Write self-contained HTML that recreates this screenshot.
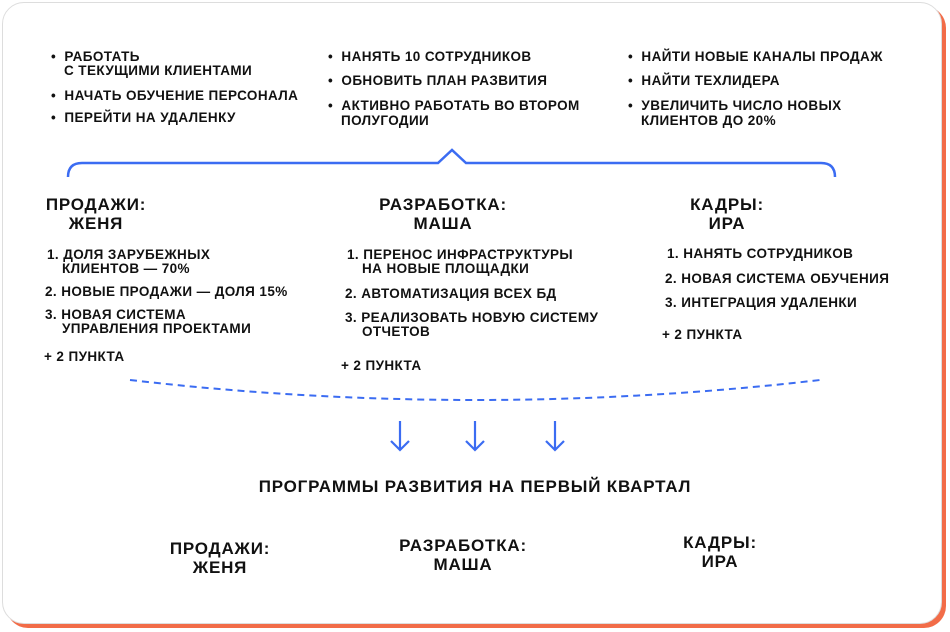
<!DOCTYPE html>
<html><head><meta charset="utf-8"><style>
body{margin:0;width:950px;height:632px;background:#fff;overflow:hidden;position:relative;font-family:"Liberation Sans",sans-serif;color:#111}
.card{position:absolute;left:2px;top:2px;width:938px;height:620px;border:1px solid #ddd;border-radius:22px;background:#fff;box-shadow:4px 4px 0 #f26c48}
.t{position:absolute;font-size:13.5px;font-weight:bold;letter-spacing:0.4px;white-space:nowrap;line-height:16px}
.h{position:absolute;font-size:17px;font-weight:bold;letter-spacing:0.8px;text-align:center;line-height:19px;white-space:nowrap;transform:translateX(-50%)}
</style></head><body>
<div class="card"></div>
<svg width="950" height="632" style="position:absolute;left:0;top:0">
<path d="M68 177 Q68 163 82 163 L438 163 L452 150 L466 163 L821 163 Q835 163 835 177" fill="none" stroke="#3b6cf2" stroke-width="2.5"/>
<path d="M130 380 Q475 420 820 380" fill="none" stroke="#3b6cf2" stroke-width="2" stroke-dasharray="7 5"/>
<g stroke="#3b6cf2" stroke-width="2.2" fill="none">
<path d="M400 421V450M391 441L400 450L409 441"/>
<path d="M475 421V450M466 441L475 450L484 441"/>
<path d="M555 421V450M546 441L555 450L564 441"/>
</g>
</svg>
<div class="t" style="left:51px;top:49px">•&nbsp; РАБОТАТЬ</div>
<div class="t" style="left:64px;top:63px">С ТЕКУЩИМИ КЛИЕНТАМИ</div>
<div class="t" style="left:51px;top:88px">•&nbsp; НАЧАТЬ ОБУЧЕНИЕ ПЕРСОНАЛА</div>
<div class="t" style="left:51px;top:110px">•&nbsp; ПЕРЕЙТИ НА УДАЛЕНКУ</div>
<div class="t" style="left:328px;top:49px">•&nbsp; НАНЯТЬ 10 СОТРУДНИКОВ</div>
<div class="t" style="left:328px;top:73px">•&nbsp; ОБНОВИТЬ ПЛАН РАЗВИТИЯ</div>
<div class="t" style="left:328px;top:98px">•&nbsp; АКТИВНО РАБОТАТЬ ВО ВТОРОМ</div>
<div class="t" style="left:341px;top:113px">ПОЛУГОДИИ</div>
<div class="t" style="left:628px;top:49px">•&nbsp; НАЙТИ НОВЫЕ КАНАЛЫ ПРОДАЖ</div>
<div class="t" style="left:628px;top:73px">•&nbsp; НАЙТИ ТЕХЛИДЕРА</div>
<div class="t" style="left:628px;top:98px">•&nbsp; УВЕЛИЧИТЬ ЧИСЛО НОВЫХ</div>
<div class="t" style="left:641px;top:113px">КЛИЕНТОВ ДО 20%</div>
<div class="h" style="left:96px;top:195px">ПРОДАЖИ:<br>ЖЕНЯ</div>
<div class="h" style="left:443px;top:195px">РАЗРАБОТКА:<br>МАША</div>
<div class="h" style="left:727px;top:195px">КАДРЫ:<br>ИРА</div>
<div class="t" style="left:47px;top:247px">1. ДОЛЯ ЗАРУБЕЖНЫХ</div>
<div class="t" style="left:62px;top:261px">КЛИЕНТОВ — 70%</div>
<div class="t" style="left:45px;top:284px">2. НОВЫЕ ПРОДАЖИ — ДОЛЯ 15%</div>
<div class="t" style="left:45px;top:307px">3. НОВАЯ СИСТЕМА</div>
<div class="t" style="left:62px;top:321px">УПРАВЛЕНИЯ ПРОЕКТАМИ</div>
<div class="t" style="left:44px;top:349px">+ 2 ПУНКТА</div>
<div class="t" style="left:347px;top:247px">1. ПЕРЕНОС ИНФРАСТРУКТУРЫ</div>
<div class="t" style="left:362px;top:261px">НА НОВЫЕ ПЛОЩАДКИ</div>
<div class="t" style="left:345px;top:286px">2. АВТОМАТИЗАЦИЯ ВСЕХ БД</div>
<div class="t" style="left:345px;top:310px">3. РЕАЛИЗОВАТЬ НОВУЮ СИСТЕМУ</div>
<div class="t" style="left:362px;top:324px">ОТЧЕТОВ</div>
<div class="t" style="left:341px;top:358px">+ 2 ПУНКТА</div>
<div class="t" style="left:667px;top:246px">1. НАНЯТЬ СОТРУДНИКОВ</div>
<div class="t" style="left:665px;top:271px">2. НОВАЯ СИСТЕМА ОБУЧЕНИЯ</div>
<div class="t" style="left:665px;top:295px">3. ИНТЕГРАЦИЯ УДАЛЕНКИ</div>
<div class="t" style="left:662px;top:327px">+ 2 ПУНКТА</div>
<div class="h" style="left:475px;top:477px">ПРОГРАММЫ РАЗВИТИЯ НА ПЕРВЫЙ КВАРТАЛ</div>
<div class="h" style="left:220px;top:539px">ПРОДАЖИ:<br>ЖЕНЯ</div>
<div class="h" style="left:463px;top:536px">РАЗРАБОТКА:<br>МАША</div>
<div class="h" style="left:720px;top:533px">КАДРЫ:<br>ИРА</div>
</body></html>
